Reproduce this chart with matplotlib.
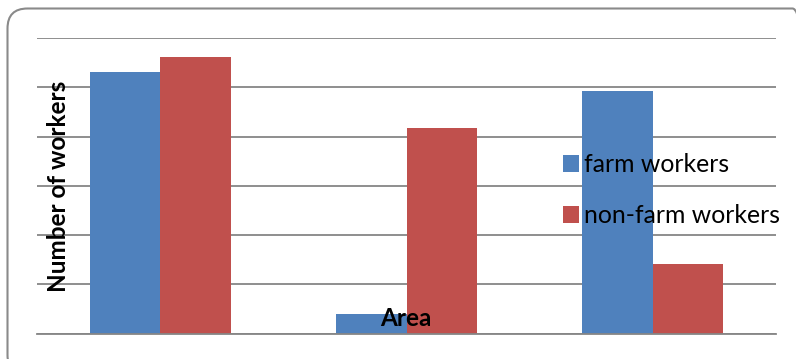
import matplotlib
matplotlib.use("Agg")
import matplotlib.pyplot as plt
import numpy as np
from matplotlib.patches import FancyBboxPatch

areas = ["", "", ""]
farm_workers = [5.31, 0.39, 4.92]
non_farm_workers = [5.61, 4.17, 1.42]
series_labels = ["farm workers", "non-farm workers"]

BLUE = "#4f81bd"
RED = "#c0504d"
GRID = "#868686"

W, H = 796, 359
fig = plt.figure(figsize=(W / 100, H / 100), dpi=100)
fig.patch.set_facecolor("white")

# rounded chart border (cropped on right and bottom like the original)
border = FancyBboxPatch(
    (7.5, H - 375), 805, 375 - 8.5,
    boxstyle="round,pad=0,rounding_size=20",
    transform=None, facecolor="none", edgecolor="#8a8a8a", linewidth=1.5,
)
fig.patches.append(border)

ax = fig.add_axes([37 / W, (H - 333.5) / H, (776 - 37) / W, (333.5 - 38) / H])
ax.set_facecolor("none")

x = np.arange(len(areas))
width = 0.286
ax.bar(x - width / 2, farm_workers, width, color=BLUE, label=series_labels[0], zorder=2)
ax.bar(x + width / 2, non_farm_workers, width, color=RED, label=series_labels[1], zorder=2)

ax.set_xlim(-0.5, len(areas) - 0.5)
ax.set_ylim(0, 6)
ax.set_yticks(np.arange(0, 7))
ax.set_yticklabels([])
ax.set_xticks([])
ax.tick_params(length=0)
ax.grid(axis="y", color=GRID, linewidth=1.3, zorder=1)
for s in ["top", "right", "left"]:
    ax.spines[s].set_visible(False)
ax.spines["bottom"].set_color(GRID)
ax.spines["bottom"].set_linewidth(1.3)
ax.spines["bottom"].set_zorder(3)

font = "Lato"
fig.text(58 / W, 1 - 186 / H, "Number of workers", rotation=90, ha="center", va="center",
         fontsize=17.5, fontweight="bold", family=font, zorder=5)
fig.text(406 / W, 1 - 318 / H, "Area", ha="center", va="center",
         fontsize=17.5, fontweight="bold", family=font, zorder=5)

leg = ax.legend(loc="upper left", bbox_to_anchor=((563 - 37) / (776 - 37), (333.5 - 153) / (333.5 - 38)),
                frameon=False, prop={"family": font, "size": 17.8}, handlelength=0.65, handleheight=0.65,
                handletextpad=0.2, labelspacing=1.15, borderaxespad=0, borderpad=0)
leg.set_zorder(5)

fig.savefig("out.png", dpi=100)
